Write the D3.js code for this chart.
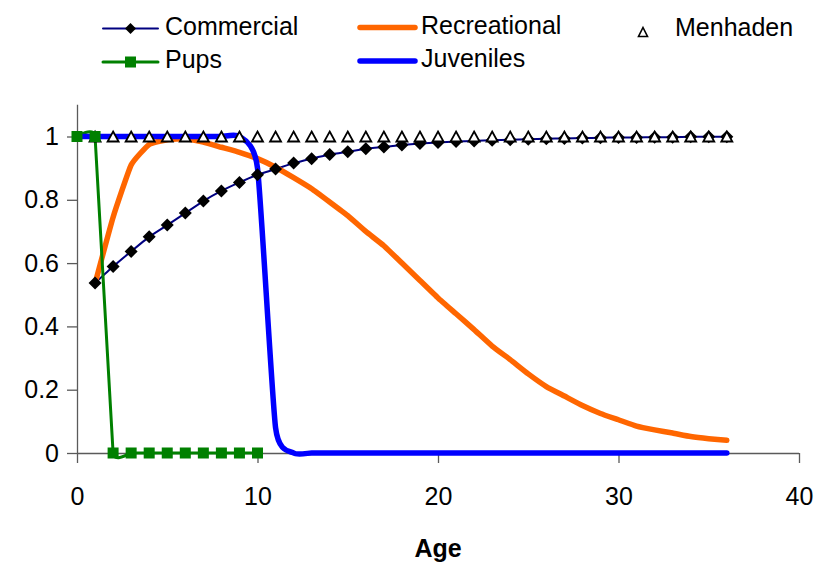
<!DOCTYPE html>
<html>
<head>
<meta charset="utf-8">
<script src="https://cdn.jsdelivr.net/npm/d3@7"></script>
<style>
  html, body { margin: 0; padding: 0; background: #fff; }
  svg text { font-family: "Liberation Sans", Arial, sans-serif; fill: #000; }
</style>
</head>
<body>
<svg id="chart" width="819" height="567"></svg>
<script>
// ---- data ----
const commercialAges = d3.range(1, 37);
const commercialValues = [0.537, 0.589, 0.637, 0.683, 0.720, 0.758, 0.796, 0.828, 0.855, 0.879,
  0.897, 0.916, 0.930, 0.943, 0.952, 0.961, 0.967, 0.973, 0.978, 0.981,
  0.984, 0.986, 0.988, 0.990, 0.991, 0.993, 0.994, 0.995, 0.996, 0.997,
  0.997, 0.998, 0.998, 0.999, 0.999, 0.999];

const recreationalAges = d3.range(1, 37);
const recreationalValues = [0.535, 0.745, 0.910, 0.975, 0.990, 0.993, 0.982, 0.966, 0.950, 0.930,
  0.903, 0.870, 0.835, 0.793, 0.750, 0.700, 0.655, 0.600, 0.545, 0.490,
  0.440, 0.390, 0.338, 0.295, 0.250, 0.210, 0.180, 0.150, 0.125, 0.105,
  0.085, 0.073, 0.063, 0.052, 0.045, 0.040];

const menhadenAges = d3.range(1, 37);
const menhadenValues = [1,1,1,1,1,1,1,1,1,1,1,1,1,1,1,1,1,1,1,1,1,1,1,1,1,1,1,1,1,1,1,1,1,1,1,1];

const pupsAges = d3.range(0, 11);
const pupsValues = [1, 1, 0, 0, 0, 0, 0, 0, 0, 0, 0];

const juvenileAges = d3.range(0, 37);
const juvenileValues = [1, 1, 1, 1, 1, 1, 1, 1, 1, 1, 0.90, 0.08, 0, 0, 0, 0, 0, 0, 0, 0,
  0, 0, 0, 0, 0, 0, 0, 0, 0, 0, 0, 0, 0, 0, 0, 0, 0];

const xTicks = [0, 10, 20, 30, 40];
const xTickLabels = ["0", "10", "20", "30", "40"];
const yTicks = [0, 0.2, 0.4, 0.6, 0.8, 1];
const yTickLabels = ["0", "0.2", "0.4", "0.6", "0.8", "1"];
const xTitle = "Age";

const seriesNames = ["Commercial", "Recreational", "Menhaden", "Pups", "Juveniles"];

// ---- layout ----
const svg = d3.select("#chart");
const x = d3.scaleLinear().domain([0, 40]).range([77, 799]);
const y = d3.scaleLinear().domain([0, 1.1]).range([453, 104.85]);
const axisColor = "#5a5a5a";
const fontSize = 25;

const zip = (a, b) => a.map((v, i) => [v, b[i]]);

const styles = {
  Commercial: { color: "#000080", width: 2, tension: 0.6 },
  Recreational: { color: "#FF6600", width: 5.5, tension: 0.6 },
  Pups: { color: "#008000", width: 3, tension: 0.8 },
  Juveniles: { color: "#0000FF", width: 5.5, tension: 0.45 }
};

// axes
const yAxis = d3.axisLeft(y).tickValues(yTicks)
  .tickFormat((d, i) => yTickLabels[i]).tickSize(10).tickPadding(8);
const xAxis = d3.axisBottom(x).tickValues(xTicks)
  .tickFormat((d, i) => xTickLabels[i]).tickSize(10).tickPadding(24);

const gy = svg.append("g").attr("transform", `translate(${x(0)},0)`).call(yAxis);
const gx = svg.append("g").attr("transform", `translate(0,${y(0)})`).call(xAxis);
[gx, gy].forEach(g => {
  g.select(".domain").attr("stroke", axisColor).attr("stroke-width", 1.3);
  g.selectAll(".tick line").attr("stroke", axisColor).attr("stroke-width", 1.3);
  g.selectAll(".tick text").attr("font-size", fontSize)
    .attr("font-family", "'Liberation Sans', Arial, sans-serif").attr("fill", "#000");
});
gy.select(".domain").attr("d", `M0.5,${y(1.1)}V${y(0)}`);
gx.select(".domain").attr("d", `M${x(0)},0.5H${x(40)}`);

svg.append("text").attr("x", (x(0) + x(40)) / 2).attr("y", 557)
  .attr("text-anchor", "middle").attr("font-size", fontSize).attr("font-weight", "bold")
  .text(xTitle);

// lines
const lineData = {
  Commercial: zip(commercialAges, commercialValues),
  Recreational: zip(recreationalAges, recreationalValues),
  Pups: zip(pupsAges, pupsValues),
  Juveniles: zip(juvenileAges, juvenileValues)
};
["Commercial", "Recreational", "Pups", "Juveniles"].forEach(name => {
  const line = d3.line().x(d => x(d[0])).y(d => y(d[1]))
    .curve(d3.curveCardinal.tension(styles[name].tension));
  svg.append("path").datum(lineData[name]).attr("d", line)
    .attr("fill", "none").attr("stroke", styles[name].color)
    .attr("stroke-width", styles[name].width)
    .attr("stroke-linejoin", "round").attr("stroke-linecap", "round");
});

// markers
const diamond = s => `M0,${-s}L${s},0L0,${s}L${-s},0Z`;
const triangle = (w, h) => `M0,${-h / 2}L${w / 2},${h / 2}L${-w / 2},${h / 2}Z`;

svg.append("g").selectAll("path").data(lineData.Commercial).join("path")
  .attr("transform", d => `translate(${x(d[0])},${y(d[1])})`)
  .attr("d", diamond(6.5)).attr("fill", "#000");

svg.append("g").selectAll("path").data(zip(menhadenAges, menhadenValues)).join("path")
  .attr("transform", d => `translate(${x(d[0])},${y(d[1])})`)
  .attr("d", triangle(11, 10)).attr("fill", "#fff").attr("stroke", "#000").attr("stroke-width", 1.8);

svg.append("g").selectAll("rect").data(lineData.Pups).join("rect")
  .attr("x", d => x(d[0]) - 5.5).attr("y", d => y(d[1]) - 5.5)
  .attr("width", 11).attr("height", 11).attr("fill", "#008000");

// legend
const legend = svg.append("g");
const legendItems = [
  { name: seriesNames[0], x1: 103, x2: 158, y: 28.5, text: 165, marker: "diamond" },
  { name: seriesNames[1], x1: 360, x2: 415, y: 27.5, text: 421, marker: null },
  { name: seriesNames[2], x1: null, x2: null, y: 30, text: 675, marker: "triangle", mx: 643 },
  { name: seriesNames[3], x1: 103, x2: 158, y: 62, text: 165, marker: "square" },
  { name: seriesNames[4], x1: 360, x2: 415, y: 61, text: 421, marker: null }
];
legendItems.forEach(it => {
  const st = styles[it.name];
  if (it.x1 !== null) {
    legend.append("line").attr("x1", it.x1).attr("x2", it.x2).attr("y1", it.y).attr("y2", it.y)
      .attr("stroke", st.color).attr("stroke-width", st.width).attr("stroke-linecap", "round");
  }
  const cx = it.marker === "triangle" ? it.mx : (it.x1 + it.x2) / 2;
  if (it.marker === "diamond") {
    legend.append("path").attr("transform", `translate(${cx},${it.y})`).attr("d", diamond(5.5)).attr("fill", "#000");
  } else if (it.marker === "square") {
    legend.append("rect").attr("x", cx - 5.5).attr("y", it.y - 5.5).attr("width", 11).attr("height", 11).attr("fill", "#008000");
  } else if (it.marker === "triangle") {
    legend.append("path").attr("transform", `translate(${cx},${it.y + 2})`).attr("d", triangle(9, 9))
      .attr("fill", "#fff").attr("stroke", "#000").attr("stroke-width", 1.6);
  }
  legend.append("text").attr("x", it.text).attr("y", it.y + 6).attr("font-size", fontSize).text(it.name);
});
</script>
</body>
</html>
